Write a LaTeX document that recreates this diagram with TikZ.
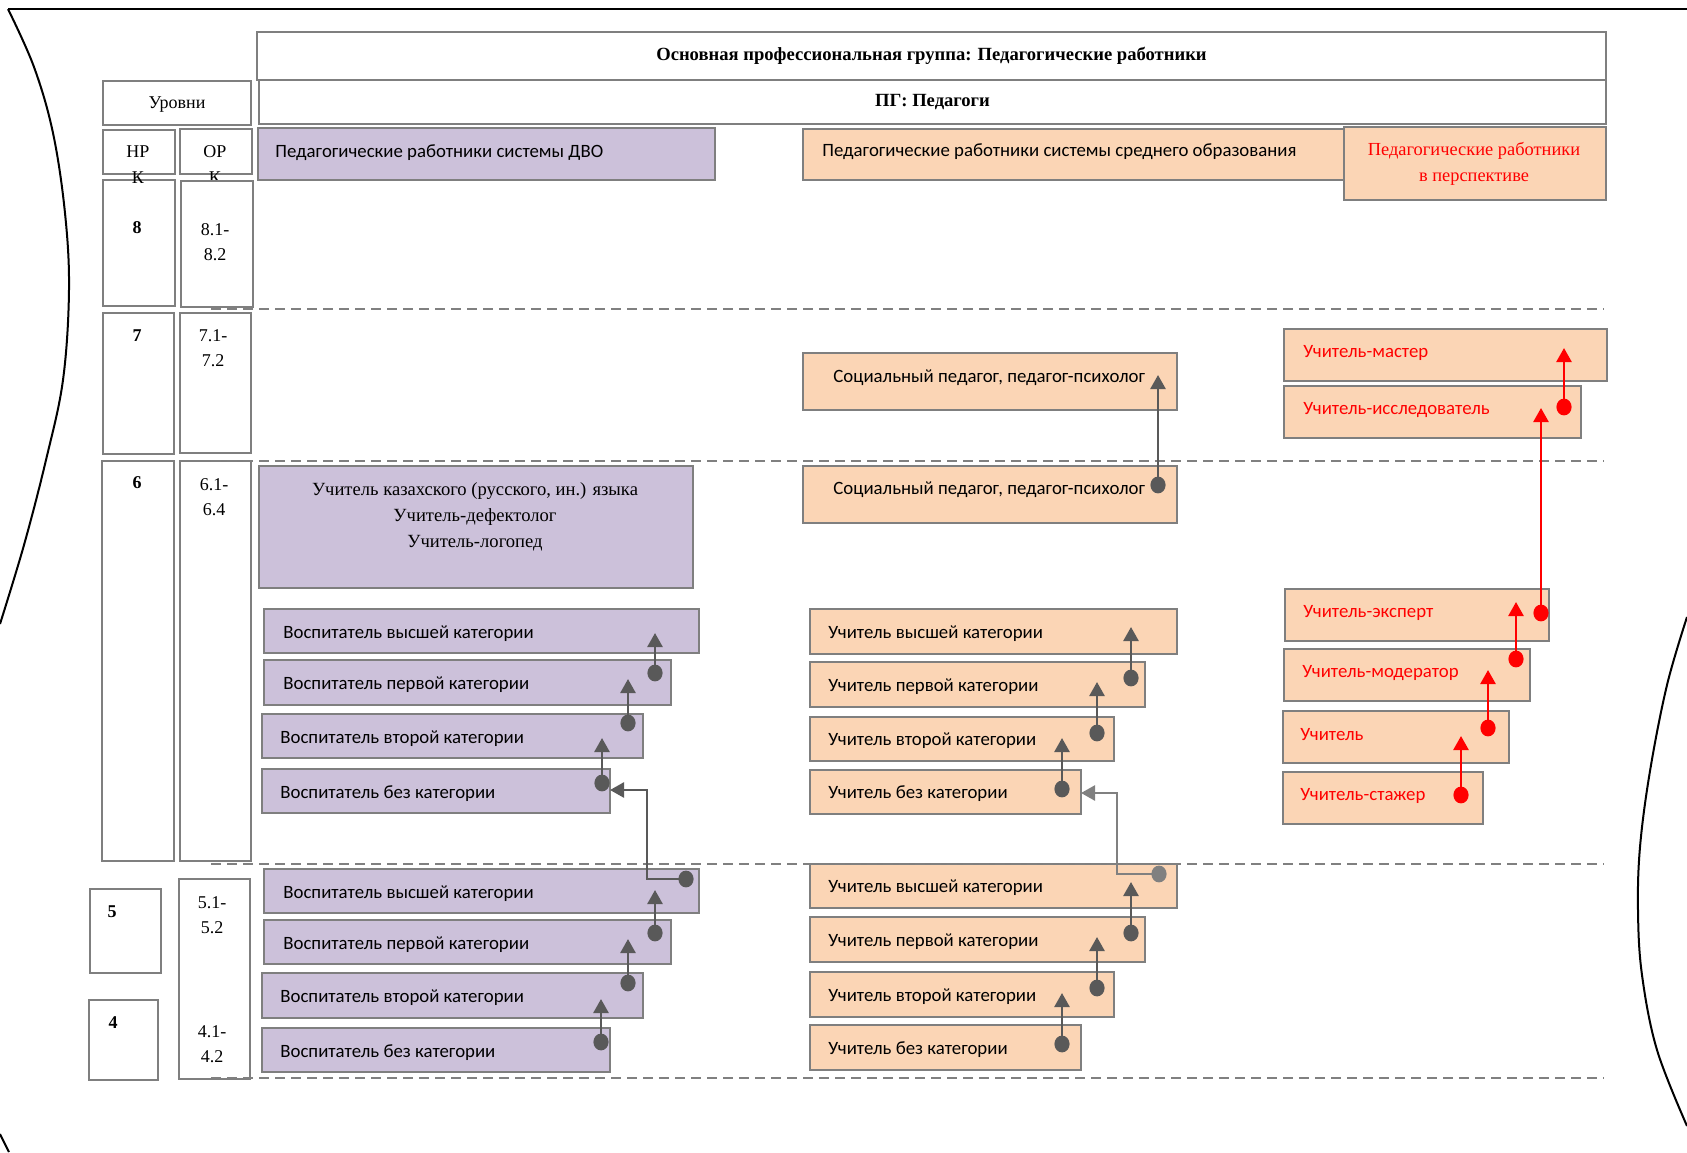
\documentclass[tikz,border=0pt]{standalone}
\usepackage{fontspec}
\setmainfont{Liberation Serif}
\newfontfamily\sansf{Carlito}
\usetikzlibrary{arrows.meta,calc}
\definecolor{purF}{HTML}{CCC1DA}
\definecolor{oraF}{HTML}{FBD5B5}
\definecolor{bordC}{HTML}{7F7F7F}
\definecolor{connC}{HTML}{595959}
\definecolor{connL}{HTML}{808080}
\definecolor{redC}{HTML}{FF0000}
\newcommand\mkbox[6]{\node[#2, minimum width={(#5-#3)*0.5pt}, minimum height={(#6-#4)*0.5pt}] (#1) at (#3,#4) {};}
\begin{document}
\begin{tikzpicture}[x=0.5pt,y=-0.5pt,
  font=\fontsize{9}{11}\selectfont,
  box/.style={draw=bordC, line width=1.2pt, inner sep=0pt, anchor=north west},
  pbox/.style={box, fill=purF},
  obox/.style={box, fill=oraF},
  wbox/.style={box, fill=white, line width=1pt},
  slbl/.style={font=\sansf\fontsize{9.4}{11}\selectfont, anchor=west, inner sep=0pt},
  rlbl/.style={slbl, text=redC},
  serl/.style={inner sep=0pt, align=center, font=\fontsize{9}{12.5}\selectfont},
  conn/.style={draw=connC, line width=1.3pt, -{Triangle[width=7.5pt,length=7pt]}},
  connl/.style={draw=connL, line width=1.3pt, -{Triangle[width=7.5pt,length=7pt]}},
  rconn/.style={draw=redC, line width=1.3pt, -{Triangle[width=7.5pt,length=7pt]}},
  dashl/.style={draw=connL, line width=1pt, dash pattern=on 5pt off 3pt},
  bord/.style={draw=black, line width=1pt}
]
\useasboundingbox (0,0) rectangle (1687,1152);

% outer decorative border
\draw[bord] (8,9) -- (1687,9);
\draw[bord] plot[smooth, tension=0.6] coordinates {(8,9) (34,67) (53,133) (65,213) (69,290) (63,380) (46,460) (24,545) (0,624)};
\draw[bord] (0,1134) -- (9,1152);
\draw[bord] plot[smooth, tension=0.6] coordinates {(1687,617) (1667,685) (1650,771) (1640,847) (1638,911) (1642,975) (1657,1050) (1687,1126)};

% headers
\mkbox{hdr1}{wbox}{256}{31}{1605}{79}
\node[serl, font=\fontsize{9.3}{12}\selectfont] (hdr1t) at (hdr1.center) {\textbf{Основная профессиональная группа: Педагогические работники}};
\mkbox{hdr2}{wbox}{258}{79}{1605}{123}
\node[serl, font=\fontsize{9.3}{12}\selectfont] (hdr2t) at (hdr2.center) {\textbf{ПГ: Педагоги}};

% levels column
\mkbox{lev}{wbox}{102}{80}{250}{124}
\node[serl] (levt) at ($(lev.center)+(0,2)$) {Уровни};
\mkbox{nrk}{wbox}{102}{129}{174}{173}
\mkbox{ork}{wbox}{179}{128}{251}{173}
\node[serl] (nrkt) at (138,152) {НР};
\node[serl] (orkt) at (215,152) {ОР};
\node[serl] (orkk) at (215,178) {К};
\mkbox{n8}{wbox}{102}{179}{174}{305}
\mkbox{o8}{wbox}{180}{180}{252}{306}
\node[serl] (nrkk) at (138,178) {К};
\node[serl] (n8t) at (137,228) {\textbf{8}};
\node[serl] (o8t) at (215,242) {8.1-\\8.2};
\mkbox{n7}{wbox}{102}{312}{173}{453}
\mkbox{o7}{wbox}{179}{312}{250}{452}
\node[serl] (n7t) at (137,336) {\textbf{7}};
\node[serl] (o7t) at (213,348) {7.1-\\7.2};
\mkbox{n6}{wbox}{101}{460}{173}{860}
\mkbox{o6}{wbox}{179}{460}{250}{860}
\node[serl] (n6t) at (137,483) {\textbf{6}};
\node[serl] (o6t) at (214,497) {6.1-\\6.4};
\mkbox{n5}{wbox}{89}{888}{160}{972}
\node[serl] (n5t) at (112,912) {\textbf{5}};
\mkbox{o54}{wbox}{178}{878}{249}{1078}
\node[serl] (o5t) at (212,915) {5.1-\\5.2};
\node[serl] (o4t) at (212,1044) {4.1-\\4.2};
\mkbox{n4}{wbox}{88}{999}{157}{1079}
\node[serl] (n4t) at (113,1023) {\textbf{4}};

% purple (DVO) column
\mkbox{dvo}{pbox}{257}{127}{714}{179}
\node[slbl] (dvot) at ($(dvo.west)+(18,-2)$) {Педагогические работники системы ДВО};
\mkbox{big6}{pbox}{258}{465}{692}{587}
\node[serl, anchor=north, font=\fontsize{9.3}{13}\selectfont] (big6t) at (475,482) {Учитель казахского (русского, ин.) языка\\Учитель-дефектолог\\Учитель-логопед};
\mkbox{v6a}{pbox}{263}{608}{698}{652}
\mkbox{v6b}{pbox}{263}{659}{670}{704}
\mkbox{v6c}{pbox}{261}{713}{642}{757}
\mkbox{v6d}{pbox}{261}{768}{609}{812}
\mkbox{v5a}{pbox}{263}{868}{698}{912}
\mkbox{v5b}{pbox}{263}{919}{670}{963}
\mkbox{v5c}{pbox}{261}{972}{642}{1017}
\mkbox{v5d}{pbox}{261}{1027}{609}{1071}
\foreach \b/\o/\t in {v6a/20/высшей, v6b/20/первой, v6c/19/второй, v6d/19/без, v5a/20/высшей, v5b/20/первой, v5c/19/второй, v5d/19/без}
  \node[slbl] (\b t) at ($(\b.west)+(\o,2)$) {Воспитатель \t{} категории};

% orange (secondary) column
\mkbox{sred}{obox}{802}{128}{1344}{179}
\node[slbl] (sredt) at ($(sred.west)+(20,-3)$) {Педагогические работники системы среднего образования};
\mkbox{persp}{obox}{1343}{126}{1605}{199}
\node[serl, text=redC, font=\fontsize{9.2}{13}\selectfont] (perspt) at (1474,164) {Педагогические работники\\в перспективе};
\mkbox{soc7}{obox}{802}{352}{1176}{409}
\node[slbl] (soc7t) at ($(soc7.west)+(31,-4)$) {Социальный педагог, педагог-психолог};
\mkbox{soc6}{obox}{802}{465}{1176}{522}
\node[slbl] (soc6t) at ($(soc6.west)+(31,-5)$) {Социальный педагог, педагог-психолог};
\mkbox{u6a}{obox}{809}{608}{1176}{653}
\mkbox{u6b}{obox}{809}{661}{1144}{706}
\mkbox{u6c}{obox}{809}{716}{1113}{760}
\mkbox{u6d}{obox}{809}{769}{1080}{813}
\mkbox{u5a}{obox}{809}{863}{1176}{907}
\mkbox{u5b}{obox}{809}{916}{1144}{961}
\mkbox{u5c}{obox}{809}{971}{1113}{1016}
\mkbox{u5d}{obox}{809}{1024}{1080}{1069}
\foreach \b/\t in {u6a/высшей, u6b/первой, u6c/второй, u6d/без, u5a/высшей, u5b/первой, u5c/второй, u5d/без}
  \node[slbl] (\b t) at ($(\b.west)+(19,1.5)$) {Учитель \t{} категории};

% red (perspective) column
\mkbox{mas}{obox}{1283}{328}{1606}{380}
\mkbox{iss}{obox}{1283}{385}{1580}{437}
\mkbox{eks}{obox}{1284}{588}{1548}{640}
\mkbox{mod}{obox}{1283}{648}{1529}{700}
\mkbox{uch}{obox}{1282}{710}{1508}{762}
\mkbox{sta}{obox}{1282}{771}{1482}{823}
\node[rlbl] (mast) at ($(mas.west)+(20,-2)$) {Учитель-мастер};
\node[rlbl] (isst) at ($(iss.west)+(20,-2)$) {Учитель-исследователь};
\node[rlbl] (ekst) at ($(eks.west)+(19,-2)$) {Учитель-эксперт};
\node[rlbl] (modt) at ($(mod.west)+(19,-2)$) {Учитель-модератор};
\node[rlbl] (ucht) at ($(uch.west)+(18,-3)$) {Учитель};
\node[rlbl] (stat) at ($(sta.west)+(18,-2)$) {Учитель-стажер};

% dashed level separators
\draw[dashl] (211,309) -- (1604,309);
\draw[dashl] (211,461) -- (1604,461);
\draw[dashl] (211,864) -- (1604,864);
\draw[dashl] (211,1078) -- (1604,1078);

% connector coordinates
\foreach \n/\dx/\dy/\tx/\ty in {
  pa/655/673/655/633, pb/628/723/628/679, pc/602/783/602/738,
  pd/655/933/655/890, pe/628/983/628/939, pf/601/1042/601/999,
  oa/1131/678/1131/627, ob/1097/733/1097/682, oc/1062/789/1062/738,
  od/1131/933/1131/882, oe/1097/988/1097/937, of/1062/1044/1062/993,
  os/1158/485/1158/375}
{
  \coordinate (\n d) at (\dx,\dy);
  \coordinate (\n t) at (\tx,\ty);
  \draw[conn] (\n d) -- (\n t);
  \fill[connC] (\n d) ellipse[x radius=3.8pt, y radius=4.2pt];
}
% elbow connectors
\coordinate (pgd) at (686,879);
\coordinate (pgt) at (610,790);
\draw[conn] (pgd) -| (647,790) -- (pgt);
\fill[connC] (pgd) ellipse[x radius=3.8pt, y radius=4.2pt];
\coordinate (ogd) at (1159,874);
\coordinate (ogt) at (1081,793);
\draw[connl] (ogd) -| (1117,793) -- (ogt);
\fill[connL] (ogd) ellipse[x radius=3.8pt, y radius=4.2pt];

% red connectors
\foreach \n/\dx/\dy/\tx/\ty in {
  ra/1564/407/1564/348, rb/1541/613/1541/408, rc/1516/659/1516/602,
  rd/1488/728/1488/670, re/1461/795/1461/736}
{
  \coordinate (\n d) at (\dx,\dy);
  \coordinate (\n t) at (\tx,\ty);
  \draw[rconn] (\n d) -- (\n t);
  \fill[redC] (\n d) ellipse[x radius=3.8pt, y radius=4.2pt];
}
\end{tikzpicture}
\end{document}
